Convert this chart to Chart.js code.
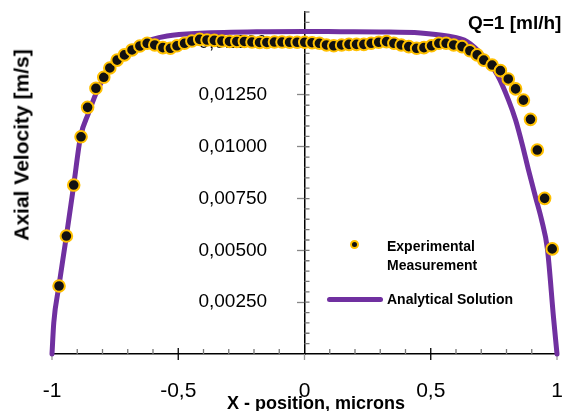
<!DOCTYPE html>
<html>
<head>
<meta charset="utf-8">
<script src="https://cdn.jsdelivr.net/npm/chart.js@4.4.1/dist/chart.umd.min.js"></script>
<style>
    body { margin: 0; background: #fff; }
    #wrap { position: relative; width: 568px; height: 411px; font-family: "Liberation Sans", Arial, sans-serif; color: #000; }
    #chart { position: absolute; left: 0; top: 0; }
    .txt { position: absolute; font-weight: bold; white-space: nowrap; line-height: 1; }
    #ytitle { left: 21px; top: 145px; font-size: 21px; transform: translate(-50%, -50%) rotate(-90deg); }
    #xtitle { left: 316px; top: 394px; font-size: 18px; transform: translateX(-50%); }
    #qlabel { left: 468px; top: 13px; font-size: 19px; }
    .leg { font-size: 14px; }
    #leg1 { left: 387px; top: 237px; line-height: 19px; }
    #leg2 { left: 387px; top: 292px; }
    #legdot { position: absolute; left: 350px; top: 240px; width: 5px; height: 5px; border-radius: 50%; background: #111; border: 2px solid #FFC000; }
    #legline { position: absolute; left: 327px; top: 297px; width: 56px; height: 5px; border-radius: 3px; background: #7030A0; }
</style>
</head>
<body>
<div id="wrap">
    <canvas id="chart" width="568" height="411"></canvas>
    <div class="txt" id="ytitle">Axial Velocity [m/s]</div>
    <div class="txt" id="xtitle">X - position, microns</div>
    <div class="txt" id="qlabel">Q=1 [ml/h]</div>
    <div id="legdot"></div>
    <div class="txt leg" id="leg1">Experimental<br>Measurement</div>
    <div id="legline"></div>
    <div class="txt leg" id="leg2">Analytical Solution</div>
</div>
<script>
// Experimental Measurement (x in microns, axial velocity in m/s)
const expX = [-0.972, -0.943, -0.914, -0.885, -0.859, -0.826, -0.795, -0.771, -0.742, -0.713,
    -0.683, -0.652, -0.623, -0.593, -0.561, -0.531, -0.505, -0.475, -0.446, -0.415,
    -0.386, -0.357, -0.327, -0.297, -0.268, -0.238, -0.208, -0.178, -0.149, -0.119,
    -0.089, -0.059, -0.029, 0.001, 0.030, 0.059, 0.087, 0.116, 0.147, 0.176,
    0.206, 0.235, 0.264, 0.294, 0.325, 0.354, 0.383, 0.413, 0.444, 0.473,
    0.503, 0.532, 0.561, 0.591, 0.624, 0.655, 0.684, 0.710, 0.743, 0.776,
    0.807, 0.836, 0.867, 0.895, 0.922, 0.951, 0.981];
const expV = [0.00328, 0.00569, 0.00815, 0.01048, 0.01190, 0.01282, 0.01335, 0.01380, 0.01418, 0.01443,
    0.01467, 0.01486, 0.01499, 0.01491, 0.01478, 0.01475, 0.01487, 0.01499, 0.01510, 0.01518,
    0.01515, 0.01513, 0.01510, 0.01508, 0.01508, 0.01508, 0.01505, 0.01503, 0.01503, 0.01505,
    0.01505, 0.01504, 0.01504, 0.01504, 0.01502, 0.01499, 0.01491, 0.01487, 0.01491, 0.01494,
    0.01494, 0.01494, 0.01499, 0.01504, 0.01507, 0.01499, 0.01491, 0.01483, 0.01475, 0.01478,
    0.01487, 0.01499, 0.01499, 0.01491, 0.01483, 0.01463, 0.01443, 0.01418, 0.01394, 0.01367,
    0.01327, 0.01279, 0.01225, 0.01132, 0.00984, 0.00751, 0.00507];

// Analytical Solution
const anaX = [-1, -0.993, -0.973, -0.943, -0.914, -0.887, -0.855, -0.820, -0.780, -0.740,
    -0.677, -0.610, -0.544, -0.412, -0.148, 0, 0.143, 0.301, 0.459, 0.565,
    0.644, 0.710, 0.764, 0.808, 0.836, 0.863, 0.887, 0.915, 0.939, 0.962, 0.986, 1];
const anaV = [0, 0.00150, 0.00325, 0.00569, 0.00815, 0.01048, 0.01163, 0.01274, 0.01361, 0.01423,
    0.01483, 0.01515, 0.01534, 0.01547, 0.01555, 0.01556, 0.01555, 0.01554, 0.01549, 0.01534,
    0.01507, 0.01434, 0.01346, 0.01225, 0.01129, 0.01008, 0.00888, 0.00757, 0.00647, 0.00507, 0.00179, 0];

// Axis ticks
const xLabelTicks = [-1, -0.5, 0, 0.5, 1];
const yLabelTicks = [0.0025, 0.005, 0.0075, 0.01, 0.0125, 0.015];
const xMin = -1, xMax = 1, xMinor = 0.1;
const yMin = 0, yMax = 0.0165, yMinor = 0.0005, yMajor = 0.0025;

const near = (v, list) => list.some(t => Math.abs(v - t) < 1e-9);
const fmtX = v => String(v).replace('.', ',');
const fmtY = v => v.toFixed(5).replace('.', ',');
const tickFont = size => ({ family: '"Liberation Sans", Arial, sans-serif', size: size });

// tick marks on the x axis and minor ticks right of the y axis
const axisTicks = {
    id: 'axisTicks',
    beforeDatasetsDraw(chart) {
        const c = chart.ctx;
        const xs = chart.scales.x, ys = chart.scales.y;
        const x0 = xs.getPixelForValue(0), y0 = ys.getPixelForValue(0);
        c.save();
        c.lineWidth = 1.3;
        xs.ticks.forEach(t => {
            const px = xs.getPixelForValue(t.value);
            c.beginPath();
            if (near(t.value, [-0.5, 0.5])) {
                c.strokeStyle = '#000';
                c.moveTo(px, y0 - 6);
                c.lineTo(px, y0 + 6);
            } else if (near(t.value, xLabelTicks)) {
                c.strokeStyle = '#999';
                c.moveTo(px, y0);
                c.lineTo(px, y0 + 6);
            } else {
                c.strokeStyle = '#777';
                c.moveTo(px, y0);
                c.lineTo(px, y0 - 5);
            }
            c.stroke();
        });
        c.strokeStyle = '#777';
        c.beginPath();
        ys.ticks.forEach(t => {
            if (t.value === 0) return;
            const py = ys.getPixelForValue(t.value);
            c.moveTo(x0, py);
            c.lineTo(x0 + 5, py);
        });
        c.stroke();
        c.restore();
    }
};

const ctx = document.getElementById('chart').getContext('2d');
const chart = new Chart(ctx, {
    type: 'scatter',
    data: {
        datasets: [{
            label: 'Experimental Measurement',
            data: expX.map((x, i) => ({ x: x, y: expV[i] })),
            backgroundColor: '#111111',
            borderColor: '#FFC000',
            borderWidth: 2,
            pointRadius: 5.8,
            clip: false,
            order: 0
        }, {
            label: 'Analytical Solution',
            data: anaX.map((x, i) => ({ x: x, y: anaV[i] })),
            showLine: true,
            borderColor: '#7030A0',
            backgroundColor: '#7030A0',
            borderWidth: 5,
            pointRadius: 0,
            cubicInterpolationMode: 'monotone',
            borderCapStyle: 'round',
            clip: false,
            order: 1
        }]
    },
    options: {
        responsive: false,
        animation: false,
        events: [],
        layout: { autoPadding: false, padding: { left: 52, right: 11, top: 12, bottom: 57 } },
        plugins: {
            legend: { display: false },
            tooltip: { enabled: false }
        },
        scales: {
            x: {
                type: 'linear',
                min: xMin,
                max: xMax,
                position: { y: 0 },
                border: { display: true, color: '#000', width: 1.5 },
                grid: {
                    drawOnChartArea: false,
                    tickLength: 25,
                    tickColor: 'rgba(0,0,0,0)'
                },
                ticks: {
                    stepSize: xMinor,
                    autoSkip: false,
                    maxRotation: 0,
                    padding: 0,
                    color: '#000',
                    font: tickFont(21),
                    callback: v => near(v, xLabelTicks) ? fmtX(Math.round(v * 2) / 2) : ''
                }
            },
            y: {
                type: 'linear',
                min: yMin,
                max: yMax,
                position: { x: 0 },
                border: { display: true, color: '#000', width: 1.5 },
                grid: {
                    drawOnChartArea: false,
                    tickLength: 7,
                    tickWidth: 1.3,
                    tickColor: c => near(c.tick.value, yLabelTicks) ? '#888' : 'rgba(0,0,0,0)'
                },
                ticks: {
                    stepSize: yMinor,
                    autoSkip: false,
                    padding: 0,
                    callback: () => ''
                }
            },
            // label-only axis, placed left of the centre axis
            yLabels: {
                type: 'linear',
                axis: 'y',
                min: yMin,
                max: yMax,
                position: { x: -0.148 },
                border: { display: false },
                grid: { display: false, drawTicks: false },
                ticks: {
                    stepSize: yMajor,
                    autoSkip: false,
                    padding: 0,
                    color: '#000',
                    font: tickFont(19),
                    callback: v => near(v, yLabelTicks) ? fmtY(v) : ''
                }
            }
        }
    },
    plugins: [axisTicks]
});
</script>
</body>
</html>
